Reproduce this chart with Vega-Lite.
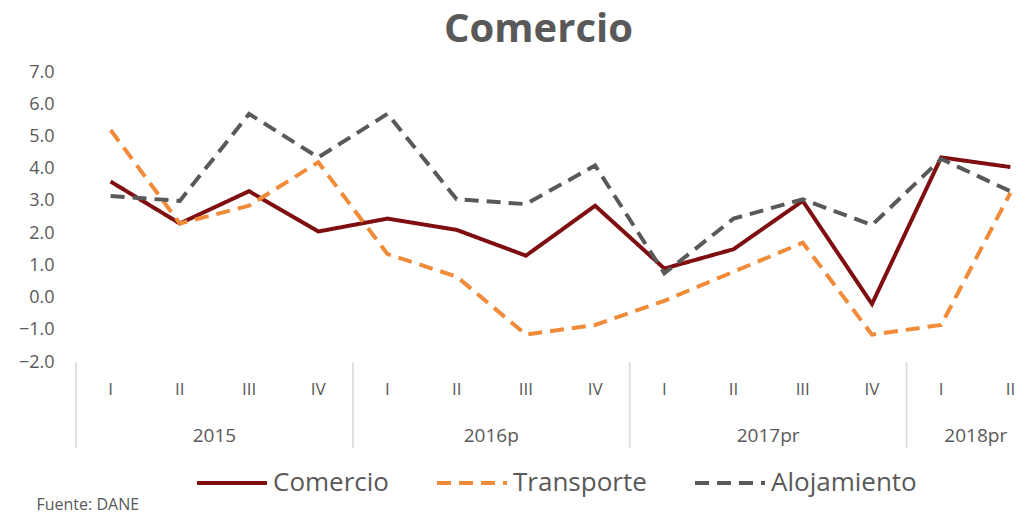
{
  "$schema": "https://vega.github.io/schema/vega-lite/v6.json",
  "autosize": {"type": "none"},
  "width": 955,
  "height": 290,
  "padding": {"left": 76, "top": 72, "right": 0, "bottom": 152},
  "background": "white",
  "title": {
    "text": "Comercio",
    "font": "Open Sans",
    "fontSize": 40,
    "fontWeight": "bold",
    "color": "#595959",
    "anchor": "middle",
    "dx": -15,
    "offset": 13
  },
  "config": {
    "view": {"stroke": null},
    "font": "Open Sans",
    "axisX": {
      "title": "Fuente: DANE",
      "titleFont": "Open Sans",
      "titleFontSize": 16,
      "titleFontWeight": "normal",
      "titleColor": "#595959",
      "titleAnchor": "start",
      "titleAlign": "left",
      "titleBaseline": "alphabetic",
      "titleX": -40,
      "titleY": 147,
      "labelAngle": 0,
      "labelFont": "Open Sans",
      "labelFontSize": 17,
      "labelColor": "#595959",
      "labelPadding": 19,
      "labelBaseline": "top",
      "ticks": false,
      "tickSize": 0,
      "domain": false,
      "grid": false
    },
    "axisY": {
      "title": null,
      "labelFont": "Open Sans",
      "labelFontSize": 18,
      "labelColor": "#595959",
      "labelPadding": 22,
      "labelOverlap": false,
      "labelBound": false,
      "labelFlush": false,
      "ticks": false,
      "domain": false,
      "grid": false
    },
    "legend": {
      "title": null,
      "orient": "none",
      "legendX": 119,
      "legendY": 374,
      "direction": "horizontal",
      "symbolType": "stroke",
      "symbolSize": 4900,
      "symbolStrokeWidth": 4,
      "labelFont": "Open Sans",
      "labelFontSize": 26,
      "labelColor": "#595959",
      "labelOffset": 4,
      "columnPadding": 40,
      "labelLimit": 300
    }
  },
  "datasets": {
    "series": [
      {"periodo": "2015-I", "serie": "Comercio", "valor": 3.6},
      {"periodo": "2015-II", "serie": "Comercio", "valor": 2.3},
      {"periodo": "2015-III", "serie": "Comercio", "valor": 3.3},
      {"periodo": "2015-IV", "serie": "Comercio", "valor": 2.05},
      {"periodo": "2016p-I", "serie": "Comercio", "valor": 2.45},
      {"periodo": "2016p-II", "serie": "Comercio", "valor": 2.1},
      {"periodo": "2016p-III", "serie": "Comercio", "valor": 1.3},
      {"periodo": "2016p-IV", "serie": "Comercio", "valor": 2.85},
      {"periodo": "2017pr-I", "serie": "Comercio", "valor": 0.9},
      {"periodo": "2017pr-II", "serie": "Comercio", "valor": 1.5},
      {"periodo": "2017pr-III", "serie": "Comercio", "valor": 3.0},
      {"periodo": "2017pr-IV", "serie": "Comercio", "valor": -0.2},
      {"periodo": "2018pr-I", "serie": "Comercio", "valor": 4.35},
      {"periodo": "2018pr-II", "serie": "Comercio", "valor": 4.05},
      {"periodo": "2015-I", "serie": "Transporte", "valor": 5.2},
      {"periodo": "2015-II", "serie": "Transporte", "valor": 2.3},
      {"periodo": "2015-III", "serie": "Transporte", "valor": 2.85},
      {"periodo": "2015-IV", "serie": "Transporte", "valor": 4.2},
      {"periodo": "2016p-I", "serie": "Transporte", "valor": 1.35},
      {"periodo": "2016p-II", "serie": "Transporte", "valor": 0.65},
      {"periodo": "2016p-III", "serie": "Transporte", "valor": -1.15},
      {"periodo": "2016p-IV", "serie": "Transporte", "valor": -0.85},
      {"periodo": "2017pr-I", "serie": "Transporte", "valor": -0.1},
      {"periodo": "2017pr-II", "serie": "Transporte", "valor": 0.8},
      {"periodo": "2017pr-III", "serie": "Transporte", "valor": 1.7},
      {"periodo": "2017pr-IV", "serie": "Transporte", "valor": -1.15},
      {"periodo": "2018pr-I", "serie": "Transporte", "valor": -0.85},
      {"periodo": "2018pr-II", "serie": "Transporte", "valor": 3.25},
      {"periodo": "2015-I", "serie": "Alojamiento", "valor": 3.15},
      {"periodo": "2015-II", "serie": "Alojamiento", "valor": 3.0},
      {"periodo": "2015-III", "serie": "Alojamiento", "valor": 5.7},
      {"periodo": "2015-IV", "serie": "Alojamiento", "valor": 4.35},
      {"periodo": "2016p-I", "serie": "Alojamiento", "valor": 5.7},
      {"periodo": "2016p-II", "serie": "Alojamiento", "valor": 3.05},
      {"periodo": "2016p-III", "serie": "Alojamiento", "valor": 2.9},
      {"periodo": "2016p-IV", "serie": "Alojamiento", "valor": 4.1},
      {"periodo": "2017pr-I", "serie": "Alojamiento", "valor": 0.75},
      {"periodo": "2017pr-II", "serie": "Alojamiento", "valor": 2.45},
      {"periodo": "2017pr-III", "serie": "Alojamiento", "valor": 3.05},
      {"periodo": "2017pr-IV", "serie": "Alojamiento", "valor": 2.25},
      {"periodo": "2018pr-I", "serie": "Alojamiento", "valor": 4.3},
      {"periodo": "2018pr-II", "serie": "Alojamiento", "valor": 3.3}
    ],
    "anios": [
      {"anio": "2015", "inicio": "2015-I", "centro": "2015-II"},
      {"anio": "2016p", "inicio": "2016p-I", "centro": "2016p-II"},
      {"anio": "2017pr", "inicio": "2017pr-I", "centro": "2017pr-II"},
      {"anio": "2018pr", "inicio": "2018pr-I", "centro": "2018pr-I"}
    ]
  },
  "layer": [
    {
      "data": {"name": "series"},
      "mark": {"type": "line", "strokeWidth": 4, "strokeCap": "butt"},
      "encoding": {
        "x": {
          "field": "periodo",
          "type": "nominal",
          "bandPosition": 0.5,
          "sort": null,
          "title": "Fuente: DANE",
          "scale": {
            "type": "band",
            "paddingInner": 0,
            "paddingOuter": 0,
            "range": [0, 969],
            "domain": ["2015-I", "2015-II", "2015-III", "2015-IV", "2016p-I", "2016p-II", "2016p-III", "2016p-IV", "2017pr-I", "2017pr-II", "2017pr-III", "2017pr-IV", "2018pr-I", "2018pr-II"]
          },
          "axis": {"labelExpr": "split(datum.value, '-')[1]"}
        },
        "y": {
          "field": "valor",
          "type": "quantitative",
          "title": null,
          "scale": {"domain": [-2, 7], "nice": false, "zero": false},
          "axis": {"values": [-2, -1, 0, 1, 2, 3, 4, 5, 6, 7], "format": ".1f", "labelOverlap": false}
        },
        "color": {
          "field": "serie",
          "type": "nominal",
          "scale": {"domain": ["Comercio", "Transporte", "Alojamiento"], "range": ["#7f0e10", "#f08b3a", "#595959"]},
          "legend": {"title": null}
        },
        "strokeDash": {
          "field": "serie",
          "type": "nominal",
          "scale": {"domain": ["Comercio", "Transporte", "Alojamiento"], "range": [[1, 0], [14, 8], [14, 8]]},
          "legend": {"title": null}
        }
      }
    },
    {
      "mark": {"type": "rule", "color": "#d9d9d9", "strokeWidth": 1.5},
      "encoding": {"y": {"datum": 0, "type": "quantitative", "title": null, "axis": {"values": [-2, -1, 0, 1, 2, 3, 4, 5, 6, 7], "format": ".1f", "labelOverlap": false}}}
    },
    {
      "data": {"name": "anios"},
      "mark": {"type": "rule", "color": "#d9d9d9", "strokeWidth": 1.5},
      "encoding": {
        "x": {"field": "inicio", "type": "nominal", "bandPosition": 0, "title": "Fuente: DANE", "axis": {"labelExpr": "split(datum.value, '-')[1]"}},
        "y": {"datum": -2, "type": "quantitative", "title": null, "axis": {"values": [-2, -1, 0, 1, 2, 3, 4, 5, 6, 7], "format": ".1f", "labelOverlap": false}},
        "y2": {"datum": -4.67}
      }
    },
    {
      "data": {"name": "anios"},
      "mark": {"type": "text", "font": "Open Sans", "fontSize": 19, "color": "#595959", "baseline": "middle", "align": "center"},
      "encoding": {
        "x": {"field": "centro", "type": "nominal", "bandPosition": 1, "title": "Fuente: DANE", "axis": {"labelExpr": "split(datum.value, '-')[1]"}},
        "y": {"datum": -4.3, "type": "quantitative", "title": null, "axis": {"values": [-2, -1, 0, 1, 2, 3, 4, 5, 6, 7], "format": ".1f", "labelOverlap": false}},
        "text": {"field": "anio"}
      }
    }
  ]
}
